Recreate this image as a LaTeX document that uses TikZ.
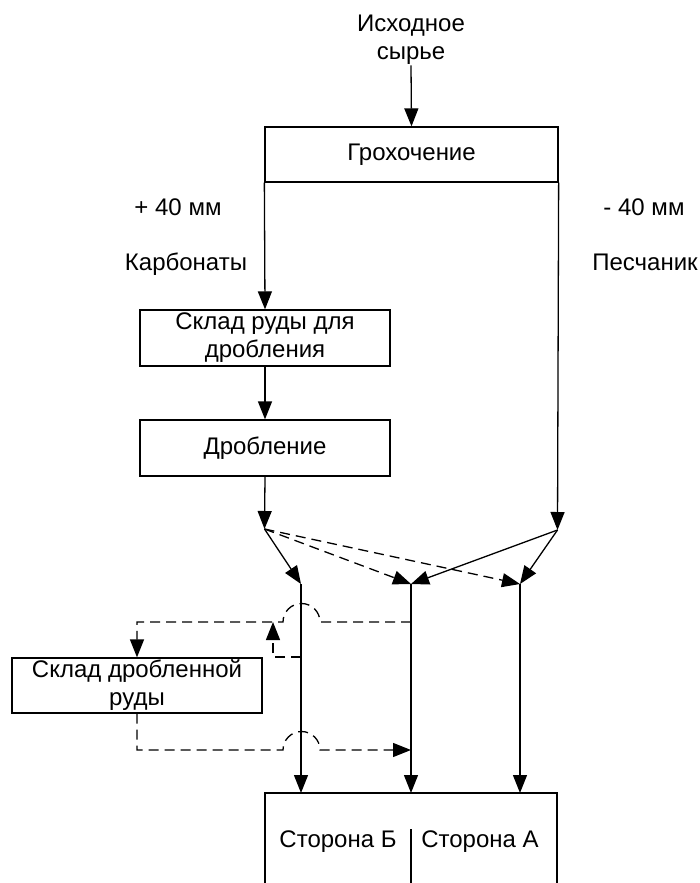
\documentclass[tikz,border=0pt]{standalone}
\usepackage{fontspec}
\setmainfont{Liberation Sans}
\usetikzlibrary{arrows.meta}
\begin{document}
\begin{tikzpicture}[x=1pt,y=1pt,line width=1.3pt,
  arr/.style={-{Triangle[length=18pt,width=14pt]}},
  dsh/.style={dash pattern=on 10pt off 6pt},
  txt/.style={inner sep=0pt,font=\fontsize{24}{28}\selectfont},
  box/.style={draw,inner sep=0pt,align=center,font=\fontsize{24}{28}\selectfont}]
\useasboundingbox (0,0) rectangle (700,-883);
% nodes
\node[txt,align=center] (src) at (411,-40) {Исходное\\сырье};
\node[box,minimum width=293pt,minimum height=55pt] (grokh) at (411.5,-154.5) {Грохочение};
\node[txt,anchor=base] (l1) at (178,-215) {+ 40 мм};
\node[txt,anchor=base] (l2) at (186,-270) {Карбонаты};
\node[txt,anchor=base] (r1) at (644,-215) {- 40 мм};
\node[txt,anchor=base] (r2) at (645,-270) {Песчаник};
\node[box,minimum width=250pt,minimum height=56pt] (sk1) at (265,-338) {Склад руды для\\дробления};
\node[box,minimum width=250pt,minimum height=56pt] (drob) at (265,-448) {Дробление};
\node[box,minimum width=250pt,minimum height=55pt] (sk2) at (137,-685.5) {Склад дробленной\\руды};
\node[txt,anchor=base] (sb) at (338,-847) {Сторона Б};
\node[txt,anchor=base] (sa) at (480,-847) {Сторона А};
% coordinates
\coordinate (j1) at (264.5,-529);
\coordinate (j2) at (557.5,-530);
\coordinate (t1) at (301,-584);
\coordinate (t2) at (411,-584);
\coordinate (t3) at (520,-584);
\coordinate (b1) at (301,-793);
\coordinate (b2) at (411,-793);
\coordinate (b3) at (520,-793);
\coordinate (sbl) at (265,-883);
\coordinate (stl) at (265,-793);
\coordinate (str) at (557,-793);
\coordinate (sbr) at (557,-883);
\coordinate (dv1) at (411,-829);
\coordinate (dv2) at (411,-883);
% result box (open at bottom)
\draw (sbl) -- (stl) -- (str) -- (sbr);
\draw (dv1) -- (dv2);
% main flow
\draw[arr] (src.south) -- (grokh.north);
\draw[arr] (grokh.south west) -- (sk1.north);
\draw[arr] (sk1.south) -- (drob.north);
\draw[arr] (drob.south) -- (j1);
\draw[arr] (grokh.south east) -- (j2);
\draw[arr] (j1) -- (t1);
\draw[arr,dsh] (j1) -- (t2);
\draw[arr,dsh] (j1) -- (t3);
\draw[arr] (j2) -- (t2);
\draw[arr] (j2) -- (t3);
\draw[arr] (t1) -- (b1);
\draw[arr] (t2) -- (b2);
\draw[arr] (t3) -- (b3);
% dashed loops
\coordinate (u1) at (411,-622);
\coordinate (u2) at (320,-622);
\coordinate (u3) at (137,-622);
\draw[arr,dsh] (u1) -- (u2) arc[start angle=0,end angle=180,radius=18.5] -- (u3) -- (sk2.north);
\coordinate (m1) at (301,-657);
\coordinate (m2) at (273,-657);
\coordinate (m3) at (273,-622);
\draw[arr,dsh] (m1) -- (m2) -- (m3);
\coordinate (w1) at (137,-750);
\coordinate (w2) at (283,-750);
\coordinate (w3) at (411,-750);
\draw[arr,dsh] (sk2.south) -- (w1) -- (w2) arc[start angle=180,end angle=0,radius=18.5] -- (w3);
\end{tikzpicture}
\end{document}
